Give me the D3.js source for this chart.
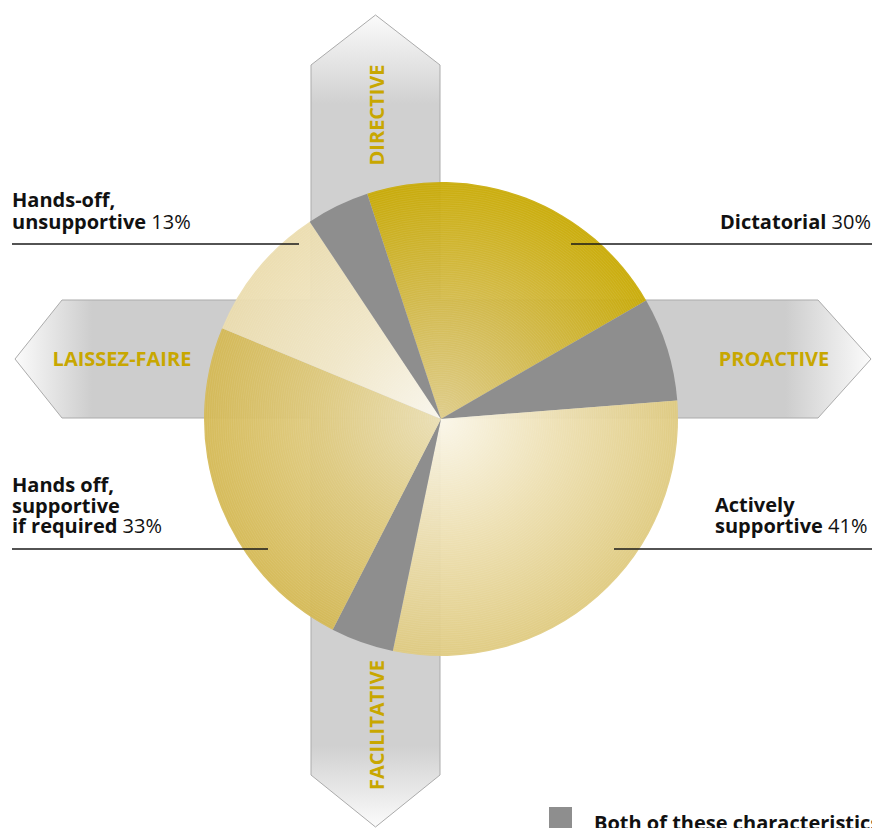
<!DOCTYPE html>
<html>
<head>
<meta charset="utf-8">
<script src="https://cdn.jsdelivr.net/npm/d3@7/dist/d3.min.js"></script>
<style>
  html, body { margin: 0; padding: 0; background: #fff; overflow: hidden; }
  svg { display: block; font-family: "Open Sans", "DejaVu Sans", sans-serif; }
</style>
</head>
<body>
<svg id="chart" width="872" height="828"></svg>
<script>
// Leadership styles: slices around the circle, clockwise from the Dictatorial slice
const segments = ["Dictatorial", "Both", "Actively supportive", "Both",
                  "Hands off, supportive if required", "Hands-off, unsupportive", "Both"];
const segmentShares = [21.7, 7.1, 29.5, 4.3, 23.7, 9.4, 4.3];
const segmentKinds = ["dict", "both", "active", "both", "handsSup", "handsUnsup", "both"];

// Callout labels: bold name lines, then the stated percentage on the last line
const calloutLines = [
  ["Hands-off,", "unsupportive"],
  ["Dictatorial"],
  ["Actively", "supportive"],
  ["Hands off,", "supportive", "if required"]
];
const calloutPercents = ["13%", "30%", "41%", "33%"];

// Axis arrows behind the circle
const axisLabels = ["DIRECTIVE", "PROACTIVE", "FACILITATIVE", "LAISSEZ-FAIRE"];
const legendLabel = "Both of these characteristics";

const svg = d3.select("#chart");
const cx = 441, cy = 419, R = 237;
const gold = "#c8a700";
const grey = "#8e8e8e";

const defs = svg.append("defs");

// ---- arrow band gradients ----
function linGrad(id, x1, y1, x2, y2, stops) {
  const g = defs.append("linearGradient").attr("id", id)
    .attr("gradientUnits", "userSpaceOnUse")
    .attr("x1", x1).attr("y1", y1).attr("x2", x2).attr("y2", y2);
  stops.forEach(s => g.append("stop").attr("offset", s[0]).attr("stop-color", s[1]));
}
linGrad("vBand", 0, 15, 0, 827, [[0, "#fbfbfb"], [0.11, "#d0d0d0"], [0.9, "#d0d0d0"], [1, "#fbfbfb"]]);
linGrad("hBand", 15, 0, 871, 0, [[0, "#fbfbfb"], [0.09, "#cdcdcd"], [0.9, "#cdcdcd"], [1, "#fbfbfb"]]);

// ---- slice gradients (radial, centred on the circle; slices live in a group at the centre) ----
const sliceStops = {
  dict:       [[0, "#e0cd88"], [0.45, "#d4bb4e"], [1, "#c8a900"]],
  active:     [[0, "#faf6e8"], [0.5, "#eddfb0"], [1, "#dfca7e"]],
  handsSup:   [[0, "#ece0b4"], [0.5, "#dfca7e"], [1, "#d4b852"]],
  handsUnsup: [[0, "#fbf8ee"], [0.5, "#f2e8c8"], [1, "#ebdcad"]]
};
Object.entries(sliceStops).forEach(([k, stops]) => {
  const g = defs.append("radialGradient").attr("id", "g-" + k)
    .attr("gradientUnits", "userSpaceOnUse")
    .attr("cx", 0).attr("cy", 0).attr("r", R);
  stops.forEach(s => g.append("stop").attr("offset", s[0]).attr("stop-color", s[1]));
});

// ---- arrow bands ----
const bands = svg.append("g").attr("class", "bands");
const vx0 = 311, vx1 = 440, vmid = (vx0 + vx1) / 2;
const hy0 = 300, hy1 = 418, hmid = (hy0 + hy1) / 2;
const line = d3.line();
bands.append("path")
  .attr("d", line([[vmid, 15], [vx1, 65], [vx1, 775], [vmid, 827], [vx0, 775], [vx0, 65]]) + "Z")
  .attr("fill", "url(#vBand)").attr("stroke", "#ababab").attr("stroke-width", 1);
bands.append("path")
  .attr("d", line([[15, hmid], [62, hy0], [818, hy0], [871, hmid], [818, hy1], [62, hy1]]) + "Z")
  .attr("fill", "url(#hBand)").attr("stroke", "#ababab").attr("stroke-width", 1);
// clean crossing (the outlines should not cut through the overlap)
bands.append("rect").attr("x", vx0 + 0.5).attr("y", hy0 + 0.5)
  .attr("width", vx1 - vx0 - 1).attr("height", hy1 - hy0 - 1).attr("fill", "#cfcfcf");

// ---- pie ----
const startA = -18.15 * Math.PI / 180;
const pie = d3.pie().sort(null).startAngle(startA).endAngle(startA + 2 * Math.PI);
const arcs = pie(segmentShares);
const arc = d3.arc().innerRadius(0).outerRadius(R);

const pieG = svg.append("g").attr("transform", `translate(${cx},${cy})`);
pieG.selectAll("path.slice").data(arcs).join("path")
  .attr("class", "slice")
  .attr("d", arc)
  .attr("fill", (d, i) => segmentKinds[i] === "both" ? grey : `url(#g-${segmentKinds[i]})`)
  .attr("fill-opacity", (d, i) => segmentKinds[i] === "both" ? 1 : 0.95);

// fine concentric ring texture on the coloured slices
const clip = defs.append("clipPath").attr("id", "goldClip");
arcs.forEach((d, i) => {
  if (segmentKinds[i] !== "both") clip.append("path").attr("d", arc(d));
});
const tex = pieG.append("g").attr("clip-path", "url(#goldClip)");
tex.selectAll("circle").data(d3.range(3, R, 2.2)).join("circle")
  .attr("r", d => d).attr("fill", "none")
  .attr("stroke", "#ffffff").attr("stroke-opacity", 0.14).attr("stroke-width", 0.6);

// ---- axis labels on the bands ----
const axisG = svg.append("g").attr("fill", gold).attr("font-weight", 700).attr("font-size", 20);
axisG.append("text").attr("transform", `translate(384,115) rotate(-90)`)
  .attr("text-anchor", "middle").text(axisLabels[0]);
axisG.append("text").attr("x", 774).attr("y", 366).attr("text-anchor", "middle").text(axisLabels[1]);
axisG.append("text").attr("transform", `translate(384,725) rotate(-90)`)
  .attr("text-anchor", "middle").text(axisLabels[2]);
axisG.append("text").attr("x", 122).attr("y", 366).attr("text-anchor", "middle").text(axisLabels[3]);

// ---- callouts (one text block each, lines as tspans) ----
const callG = svg.append("g").attr("font-size", 20).attr("fill", "#111");
const callouts = [
  { x: 12,  y: 207, gap: 22, anchor: "start", line: [12, 299, 244] },
  { x: 871, y: 229, gap: 22, anchor: "end",   line: [571, 872, 244] },
  { x: 715, y: 512, gap: 21, anchor: "start", line: [614, 872, 549] },
  { x: 12,  y: 492, gap: 20.5, anchor: "start", line: [12, 268, 549] }
];
callouts.forEach((c, k) => {
  const lines = calloutLines[k];
  const txt = callG.append("text").attr("x", c.x).attr("y", c.y).attr("text-anchor", c.anchor);
  lines.forEach((s, j) => {
    const ts = txt.append("tspan").attr("font-weight", 700).text(s);
    if (j > 0) ts.attr("x", c.x).attr("dy", c.gap);
  });
  txt.append("tspan").attr("font-weight", 400).text(" " + calloutPercents[k]);
  callG.append("line")
    .attr("x1", c.line[0]).attr("x2", c.line[1]).attr("y1", c.line[2]).attr("y2", c.line[2])
    .attr("stroke", "#1a1a1a").attr("stroke-width", 1.3);
});

// ---- legend ----
svg.append("rect").attr("x", 549).attr("y", 807).attr("width", 23).attr("height", 22).attr("fill", grey);
svg.append("text").attr("x", 594).attr("y", 830).attr("font-size", 20).attr("font-weight", 700)
  .attr("fill", "#111").text(legendLabel);
</script>
</body>
</html>
